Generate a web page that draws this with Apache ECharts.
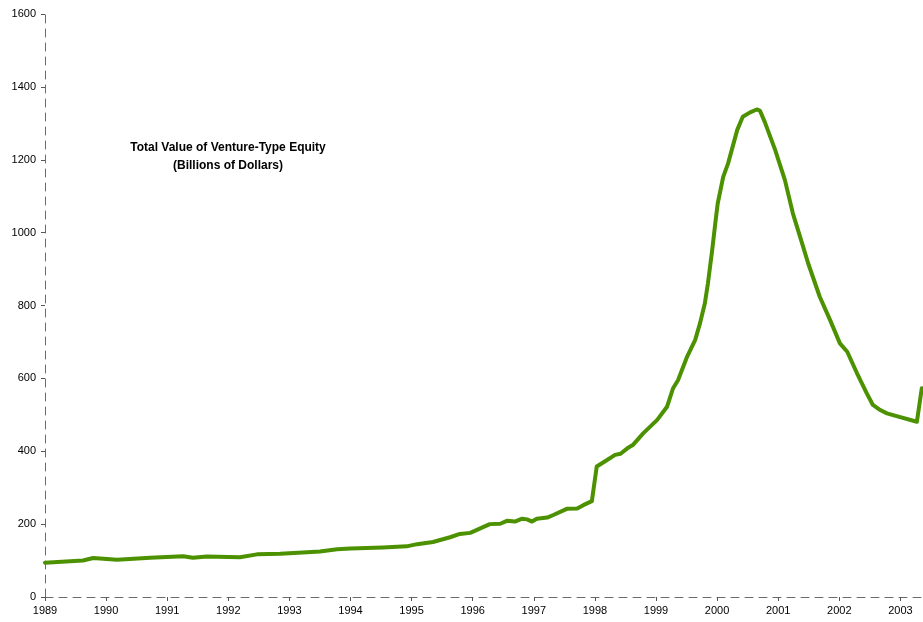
<!DOCTYPE html>
<html>
<head>
<meta charset="utf-8">
<script src="https://cdn.jsdelivr.net/npm/echarts@6/dist/echarts.min.js"></script>
<style>html,body{margin:0;padding:0;background:#fff}#c{width:923px;height:622px}</style>
</head>
<body>
<div id="c"></div>
<script>
const years = [1989.00,1989.62,1989.79,1990.18,1990.72,1991.26,1991.42,1991.65,1992.19,1992.47,1992.85,1993.29,1993.50,1993.78,1994.00,1994.53,1994.92,1995.09,1995.35,1995.63,1995.79,1995.96,1996.28,1996.45,1996.56,1996.69,1996.81,1996.89,1996.97,1997.05,1997.22,1997.32,1997.54,1997.71,1997.81,1997.95,1998.03,1998.20,1998.33,1998.42,1998.53,1998.62,1998.79,1999.02,1999.18,1999.28,1999.36,1999.51,1999.64,1999.72,1999.80,1999.85,1999.92,1999.97,2000.01,2000.10,2000.18,2000.33,2000.42,2000.54,2000.65,2000.70,2000.78,2000.95,2001.11,2001.24,2001.39,2001.49,2001.68,2001.85,2002.01,2002.13,2002.29,2002.45,2002.55,2002.67,2002.78,2002.88,2003.27,2003.35];
const values = [94,100,107,102,108,112,108,111,109,117,119,123,125,131,133,136,139,145,151,164,173,176,200,201,209,207,215,213,207,215,218,225,242,243,252,263,358,376,390,393,408,417,449,486,522,573,595,660,705,751,806,861,952,1025,1080,1153,1190,1282,1318,1330,1338,1335,1304,1227,1144,1053,971,916,824,760,696,673,614,559,527,513,504,499,481,573];
const yTicks = [0,200,400,600,800,1000,1200,1400,1600];
const titleLines = ['Total Value of Venture-Type Equity','(Billions of Dollars)'];

const chart = echarts.init(document.getElementById('c'), null, {renderer:'canvas'});
const dashAxis = {show:true, lineStyle:{color:'#6b6b6b', width:1, type:[8,6]}};
chart.setOption({
  animation:false,
  backgroundColor:'#fff',
  grid:{left:45, right:0, top:14, bottom:25, containLabel:false},
  xAxis:{
    type:'value', min:1989, max:2003.37, interval:1,
    axisLine:dashAxis,
    axisTick:{show:true, length:4, lineStyle:{color:'#555'}},
    splitLine:{show:false},
    axisLabel:{color:'#000', fontFamily:'Liberation Sans, Arial', fontSize:11, margin:8, showMaxLabel:false,
      formatter:v => Number.isInteger(v) ? String(v) : ''}
  },
  yAxis:{
    type:'value', min:yTicks[0], max:yTicks[yTicks.length-1], interval:200,
    axisLine:dashAxis,
    axisTick:{show:true, length:4, lineStyle:{color:'#555'}},
    splitLine:{show:false},
    axisLabel:{color:'#000', fontFamily:'Liberation Sans, Arial', fontSize:11, margin:9,
      formatter:v => String(v)}
  },
  graphic:[
    {type:'text', x:228, y:142, style:{text:titleLines[0], textAlign:'center', font:'bold 12px Liberation Sans, Arial', fill:'#000'}},
    {type:'text', x:228, y:160, style:{text:titleLines[1], textAlign:'center', font:'bold 12px Liberation Sans, Arial', fill:'#000'}}
  ],
  series:[{
    type:'line', showSymbol:false, smooth:false,
    data: years.map((y,i)=>[y, values[i]]),
    lineStyle:{color:'#4c9100', width:4, join:'round', cap:'round'}
  }]
});
</script>
</body>
</html>
